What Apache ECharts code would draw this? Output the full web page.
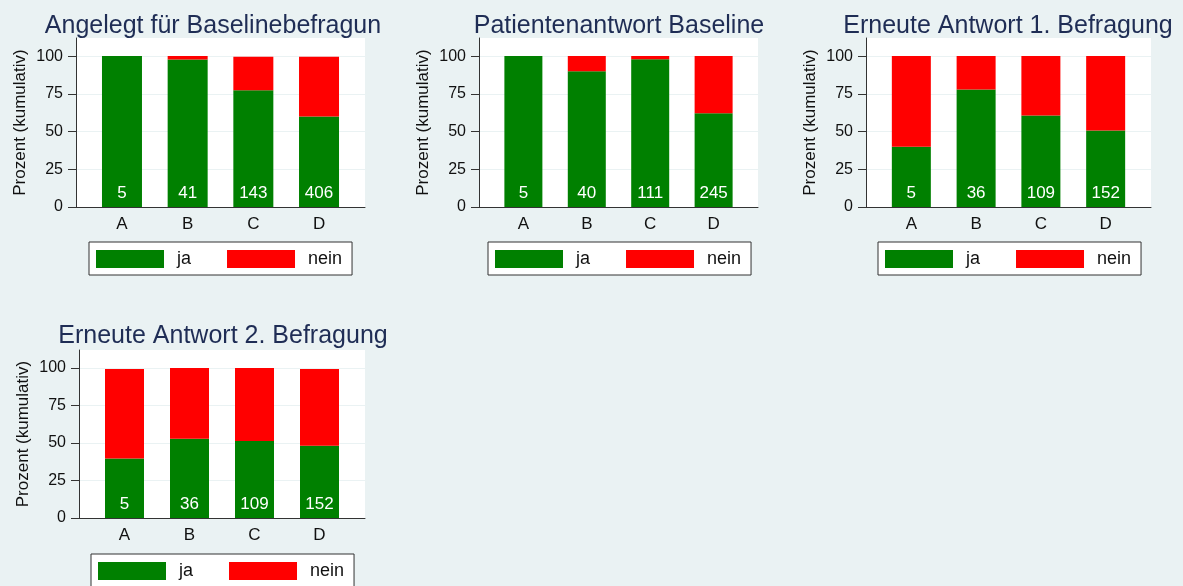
<!DOCTYPE html>
<html>
<head>
<meta charset="utf-8">
<script src="https://cdn.jsdelivr.net/npm/echarts@6/dist/echarts.min.js"></script>
<style>
html,body{margin:0;padding:0;background:#eaf2f3;}
#chart{width:1183px;height:586px;}
</style>
</head>
<body>
<div id="chart"></div>
<script>
// ---- data ----
var categories = ['A', 'B', 'C', 'D'];
var yTicks = [0, 25, 50, 75, 100];
var seriesNames = ['ja', 'nein'];
var yAxisTitle = 'Prozent (kumulativ)';

var title1 = 'Angelegt für Baselinebefragun';
var ja1   = [100, 97.8, 77.4, 60.0];
var nein1 = [0, 2.2, 22.2, 39.6];
var n1    = [5, 41, 143, 406];

var title2 = 'Patientenantwort Baseline';
var ja2   = [100, 90.0, 98.0, 62.2];
var nein2 = [0, 10.0, 2.0, 37.8];
var n2    = [5, 40, 111, 245];

var title3 = 'Erneute Antwort 1. Befragung';
var ja3   = [40.0, 77.8, 60.7, 50.7];
var nein3 = [60.0, 22.2, 39.3, 49.3];
var n3    = [5, 36, 109, 152];

var title4 = 'Erneute Antwort 2. Befragung';
var ja4   = [39.6, 52.8, 51.4, 48.2];
var nein4 = [59.8, 47.2, 48.6, 51.2];
var n4    = [5, 36, 109, 152];

// ---- layout ----
var FONT = 'Liberation Sans, Arial, Helvetica, sans-serif';
var GREEN = '#008000', RED = '#ff0000', AXIS = '#333333', TITLE = '#1f2d55';

var panels = [
  {title: title1, ja: ja1, nein: nein1, n: n1, grid: {left: 76, top: 38, width: 289, height: 169}, titleX: 208, titleTop: 9, legend: {left: 89, top: 242}, barWidth: 40},
  {title: title2, ja: ja2, nein: nein2, n: n2, grid: {left: 479, top: 38, width: 279, height: 169}, titleX: 614, titleTop: 9, legend: {left: 488, top: 242}, barWidth: 38},
  {title: title3, ja: ja3, nein: nein3, n: n3, grid: {left: 866, top: 38, width: 285, height: 169}, titleX: 1003, titleTop: 9, legend: {left: 878, top: 242}, barWidth: 39},
  {title: title4, ja: ja4, nein: nein4, n: n4, grid: {left: 79, top: 350, width: 286, height: 168}, titleX: 218, titleTop: 319, legend: {left: 91, top: 554}, barWidth: 39}
];

var option = {
  backgroundColor: '#eaf2f3',
  animation: false,
  textStyle: {fontFamily: FONT},
  title: [], grid: [], xAxis: [], yAxis: [], legend: [], series: []
};

panels.forEach(function (p, i) {
  option.title.push({
    text: p.title, left: p.titleX, top: p.titleTop, textAlign: 'center',
    textStyle: {fontFamily: FONT, fontSize: 25, fontWeight: 'normal', color: TITLE}
  });
  option.grid.push({
    left: p.grid.left, top: p.grid.top, width: p.grid.width, height: p.grid.height,
    show: true, backgroundColor: '#ffffff', borderWidth: 0
  });
  option.xAxis.push({
    type: 'value', gridIndex: i, min: -0.7, max: 3.7,
    axisLine: {show: true, onZero: false, lineStyle: {color: AXIS, width: 1}},
    axisTick: {show: false},
    splitLine: {show: false},
    axisLabel: {
      customValues: [0, 1, 2, 3],
      formatter: function (v) { return categories[Math.round(v)]; },
      fontSize: 17, color: '#111', margin: 9, fontFamily: FONT
    }
  });
  option.yAxis.push({
    type: 'value', gridIndex: i, min: 0, max: 112,
    name: yAxisTitle, nameLocation: 'middle', nameRotate: 90, nameGap: 47,
    nameTextStyle: {fontSize: 17, color: '#111', fontFamily: FONT},
    axisLine: {show: true, onZero: false, lineStyle: {color: AXIS, width: 1}},
    axisTick: {show: true, length: 8, customValues: yTicks, lineStyle: {color: AXIS}},
    axisLabel: {customValues: yTicks, fontSize: 16, color: '#111', margin: 13, fontFamily: FONT},
    splitLine: {show: true, lineStyle: {color: '#eaf2f3', width: 1}}
  });
  option.legend.push({
    data: seriesNames, left: p.legend.left, top: p.legend.top,
    orient: 'horizontal', icon: 'rect', itemWidth: 68, itemHeight: 18, itemGap: 36,
    padding: [8, 10, 7, 7], backgroundColor: '#ffffff', borderColor: '#333', borderWidth: 1,
    borderRadius: 0, selectedMode: false,
    textStyle: {fontSize: 18, color: '#111', padding: [0, 0, 0, 8], fontFamily: FONT}
  });
  // value first (stacked y dimension), category index second (x)
  option.series.push({
    name: seriesNames[0], type: 'bar', xAxisIndex: i, yAxisIndex: i, stack: 's' + i,
    encode: {x: 1, y: 0},
    barWidth: p.barWidth, itemStyle: {color: GREEN},
    data: p.ja.map(function (v, k) { return [v, k]; }),
    label: {
      show: true, position: 'insideBottom', distance: 5, color: '#ffffff', fontSize: 17, fontFamily: FONT,
      formatter: function (d) { return String(p.n[d.dataIndex]); }
    }
  });
  option.series.push({
    name: seriesNames[1], type: 'bar', xAxisIndex: i, yAxisIndex: i, stack: 's' + i,
    encode: {x: 1, y: 0},
    barWidth: p.barWidth, itemStyle: {color: RED},
    data: p.nein.map(function (v, k) { return [v, k]; })
  });
});

var chart = echarts.init(document.getElementById('chart'), null, {renderer: 'canvas'});
chart.setOption(option);
</script>
</body>
</html>
